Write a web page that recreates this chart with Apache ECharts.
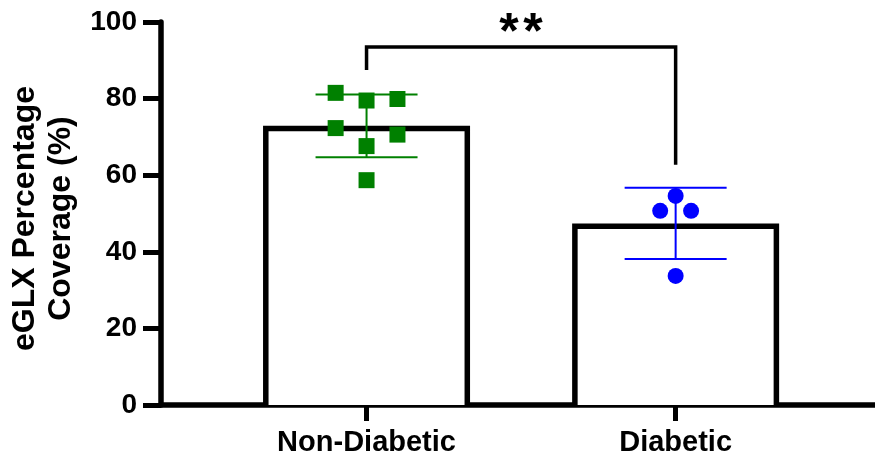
<!DOCTYPE html>
<html>
<head>
<meta charset="utf-8">
<script src="https://cdn.jsdelivr.net/npm/echarts@6/dist/echarts.min.js"></script>
<style>html,body{margin:0;padding:0;background:#fff}#c{width:875px;height:457px}</style>
</head>
<body>
<div id="c"></div>
<script>
const categories = ['Non-Diabetic', 'Diabetic'];
const groupPositions = [1, 2];
const meanValues = [72.9, 47.4];
const sdValues = [8.2, 9.3];
const nonDiabeticValues = [81.5, 79.5, 79.9, 72.3, 70.6, 67.6, 58.7];
const nonDiabeticJitter = [-0.1, 0, 0.1, -0.1, 0.1, 0, 0];
const diabeticValues = [54.6, 50.7, 50.7, 33.7];
const diabeticJitter = [0, -0.05, 0.05, 0];
const yTicks = [0, 20, 40, 60, 80, 100];
const bracket = { from: 1, to: 2, top: 93.5, leftEnd: 87.5, rightEnd: 62.7, label: '**' };

const FONT = 'Liberation Sans, Arial, sans-serif';
const chart = echarts.init(document.getElementById('c'));

const barData = groupPositions.map((x, i) => [x, meanValues[i]]);
const errData = groupPositions.map((x, i) => [x, meanValues[i] - sdValues[i], meanValues[i] + sdValues[i]]);
const ndPts = nonDiabeticValues.map((v, i) => [groupPositions[0] + nonDiabeticJitter[i], v]);
const dPts = diabeticValues.map((v, i) => [groupPositions[1] + diabeticJitter[i], v]);

const BAR_HALF = 103.5, BAR_LW = 5.5, CAP_HALF = 51, STAR_STEP = 24;

chart.setOption({
  animation: false,
  grid: { left: 161, right: 0, top: 22, bottom: 52, containLabel: false, outerBoundsMode: 'none' },
  xAxis: {
    type: 'value', min: 0.335, max: 2.645,
    splitLine: { show: false },
    axisLine: { show: true, lineStyle: { color: '#000', width: 5.5 } },
    axisTick: { show: true, customValues: groupPositions, length: 16, lineStyle: { color: '#000', width: 5 } },
    axisLabel: {
      customValues: groupPositions,
      formatter: v => categories[groupPositions.indexOf(Math.round(v))] || '',
      color: '#000', fontWeight: 'bold', fontSize: 29, fontFamily: FONT, margin: 23
    }
  },
  yAxis: {
    type: 'value', min: 0, max: 100, interval: 20,
    splitLine: { show: false },
    axisLine: { show: true, lineStyle: { color: '#000', width: 5.5 } },
    axisTick: { show: true, length: 18, lineStyle: { color: '#000', width: 5 } },
    axisLabel: {
      formatter: v => yTicks.includes(v) ? String(v) : '',
      color: '#000', fontWeight: 'bold', fontSize: 28, fontFamily: FONT, margin: 24
    },
    name: 'eGLX Percentage\nCoverage (%)',
    nameLocation: 'middle', nameRotate: 90, nameGap: 81,
    nameTextStyle: { color: '#000', fontWeight: 'bold', fontSize: 32, fontFamily: FONT, lineHeight: 36, align: 'center', padding: [0, 10, 0, 0] }
  },
  series: [
    {
      type: 'custom', z: 1, data: barData,
      renderItem: (params, api) => {
        const x = api.value(0), y = api.value(1);
        const top = api.coord([x, y]);
        const base = api.coord([x, 0]);
        const l = top[0] - BAR_HALF + BAR_LW / 2, r = top[0] + BAR_HALF - BAR_LW / 2, t = top[1] + BAR_LW / 2;
        return {
          type: 'polyline',
          shape: { points: [[l, base[1]], [l, t], [r, t], [r, base[1]]] },
          style: { stroke: '#000', lineWidth: BAR_LW, fill: '#fff', lineJoin: 'miter' }
        };
      }
    },
    {
      type: 'custom', z: 3, data: errData,
      renderItem: (params, api) => {
        const x = api.value(0);
        const lo = api.coord([x, api.value(1)]);
        const hi = api.coord([x, api.value(2)]);
        const color = params.dataIndex === 0 ? '#008000' : '#0000ff';
        const st = { stroke: color, lineWidth: 2 };
        return {
          type: 'group', children: [
            { type: 'line', shape: { x1: lo[0], y1: lo[1], x2: hi[0], y2: hi[1] }, style: st },
            { type: 'line', shape: { x1: lo[0] - CAP_HALF, y1: lo[1], x2: lo[0] + CAP_HALF, y2: lo[1] }, style: st },
            { type: 'line', shape: { x1: hi[0] - CAP_HALF, y1: hi[1], x2: hi[0] + CAP_HALF, y2: hi[1] }, style: st }
          ]
        };
      }
    },
    {
      type: 'scatter', z: 4, data: ndPts, symbol: 'rect', symbolSize: 16,
      itemStyle: { color: '#008000', opacity: 1 }
    },
    {
      type: 'scatter', z: 4, data: dPts, symbol: 'circle', symbolSize: 16,
      itemStyle: { color: '#0000ff', opacity: 1 }
    },
    {
      type: 'custom', z: 5, data: [[bracket.from, bracket.to, bracket.top, bracket.leftEnd, bracket.rightEnd]],
      renderItem: (params, api) => {
        const a = api.coord([api.value(0), api.value(3)]);
        const b = api.coord([api.value(0), api.value(2)]);
        const c = api.coord([api.value(1), api.value(2)]);
        const d = api.coord([api.value(1), api.value(4)]);
        const mid = (b[0] + c[0]) / 2;
        const chars = bracket.label.split('');
        const stars = chars.map((ch, i) => ({
          type: 'text',
          style: { text: ch, x: mid + (i - (chars.length - 1) / 2) * STAR_STEP, y: b[1] - 13, align: 'center', verticalAlign: 'middle', fill: '#000', font: 'bold 50px ' + FONT }
        }));
        return {
          type: 'group', children: [
            { type: 'polyline', shape: { points: [a, b, c, d] }, style: { stroke: '#000', lineWidth: 3.5, fill: null, lineJoin: 'miter' } }
          ].concat(stars)
        };
      }
    }
  ]
});
</script>
</body>
</html>
